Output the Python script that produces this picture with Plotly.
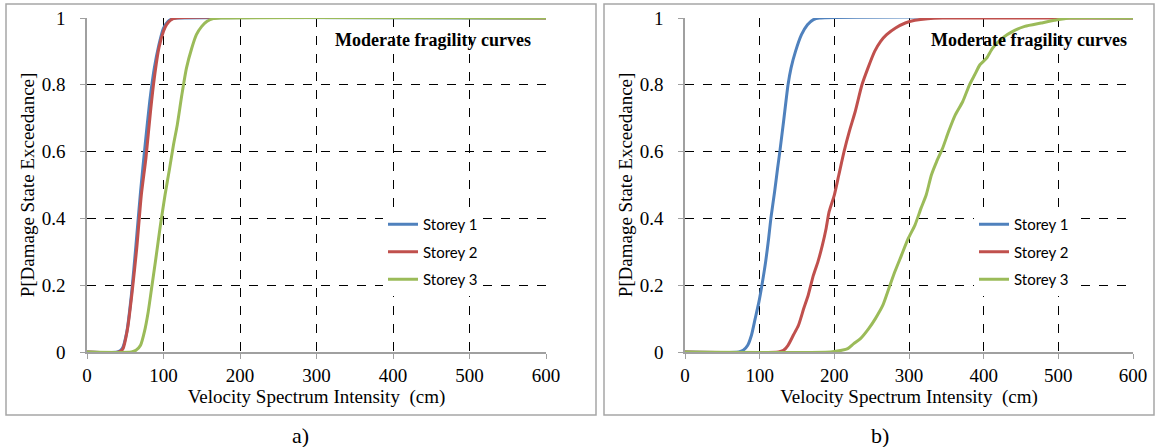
import plotly.graph_objects as go

# ---- data ----
# Panel a)
a_s1_x = [0, 40, 46, 52, 58, 64, 70, 76, 82, 88, 94, 100, 106, 112, 118, 600]
a_s1_y = [0, 0, 0.01, 0.06, 0.17, 0.32, 0.48, 0.62, 0.75, 0.85, 0.92, 0.97, 0.99, 0.998, 1, 1]
a_s2_x = [0, 42, 47, 53, 59, 65, 71, 77, 83, 88, 94, 100, 104, 110, 117, 600]
a_s2_y = [0, 0, 0.01, 0.07, 0.18, 0.31, 0.47, 0.58, 0.72, 0.82, 0.91, 0.96, 0.98, 0.995, 1, 1]
a_s3_x = [0, 58, 64, 70, 75, 80, 85, 90, 96, 102, 108, 113, 118, 124, 130, 137, 143, 150, 157, 165, 175, 600]
a_s3_y = [0, 0, 0.005, 0.02, 0.06, 0.12, 0.2, 0.28, 0.38, 0.47, 0.55, 0.62, 0.68, 0.77, 0.85, 0.91, 0.95, 0.975, 0.99, 0.998, 1, 1]

# Panel b)
b_s1_x = [0, 72, 78, 84, 89, 94, 99, 103, 108, 112, 115, 120, 124, 127, 132, 138, 142, 148, 156, 164, 172, 180, 600]
b_s1_y = [0, 0, 0.005, 0.02, 0.05, 0.1, 0.15, 0.2, 0.27, 0.34, 0.4, 0.48, 0.55, 0.6, 0.69, 0.8, 0.85, 0.9, 0.95, 0.98, 0.995, 1, 1]
b_s2_x = [0, 125, 132, 138, 145, 152, 159, 165, 172, 178, 184, 189, 193, 200, 206, 213, 220, 228, 237, 245, 254, 262, 270, 282, 295, 308, 325, 345, 600]
b_s2_y = [0, 0, 0.005, 0.02, 0.05, 0.08, 0.13, 0.17, 0.23, 0.27, 0.32, 0.37, 0.42, 0.47, 0.53, 0.6, 0.66, 0.72, 0.8, 0.85, 0.9, 0.93, 0.95, 0.97, 0.985, 0.993, 0.998, 1, 1]
b_s3_x = [0, 195, 210, 218, 226, 235, 246, 255, 265, 273, 281, 290, 299, 308, 316, 323, 330, 337, 345, 353, 362, 372, 381, 388, 395, 404, 412, 425, 439, 455, 477, 495, 515, 600]
b_s3_y = [0, 0, 0.005, 0.01, 0.025, 0.04, 0.07, 0.1, 0.14, 0.19, 0.24, 0.29, 0.34, 0.38, 0.43, 0.47, 0.53, 0.57, 0.61, 0.66, 0.71, 0.75, 0.8, 0.83, 0.86, 0.88, 0.91, 0.94, 0.96, 0.975, 0.985, 0.993, 1, 1]

series_names = ["Storey 1", "Storey 2", "Storey 3"]
colors = ["#4F81BD", "#C0504D", "#9BBB59"]
x_ticks = [0, 100, 200, 300, 400, 500, 600]
y_ticks = [0, 0.2, 0.4, 0.6, 0.8, 1]
y_tick_text = ["0", "0.2", "0.4", "0.6", "0.8", "1"]
panel_labels = ["a)", "b)"]
note_text = "Moderate fragility curves"
x_title = "Velocity Spectrum Intensity  (cm)"
y_title = "P[Damage State Exceedance]"

W, H = 1160, 447
SERIF = "Liberation Serif, Times New Roman, serif"
fig = go.Figure()

panels = [
    ([a_s1_x, a_s2_x, a_s3_x], [a_s1_y, a_s2_y, a_s3_y], "x", "y", "legend", "a"),
    ([b_s1_x, b_s2_x, b_s3_x], [b_s1_y, b_s2_y, b_s3_y], "x2", "y2", "legend2", "b"),
]
for xs, ys, xa, ya, lg, tag in panels:
    for i in range(3):
        fig.add_trace(go.Scatter(x=xs[i], y=ys[i], mode="lines", name=series_names[i],
                                 line=dict(color=colors[i], width=3, shape="spline", smoothing=0.6),
                                 xaxis=xa, yaxis=ya, legend=lg, legendgroup=tag + str(i)))

ydom = [1 - 352 / H, 1 - 18 / H]
xdom1 = [87 / W, 546 / W]
xdom2 = [685 / W, 1133 / W]

tickfont = dict(family=SERIF, size=19, color="black")
titlefont = dict(family=SERIF, size=19, color="black")

def xaxis(dom, anchor):
    return dict(domain=dom, anchor=anchor, range=[0, 600], tickvals=x_ticks,
                showgrid=True, gridcolor="black", griddash="dash", gridwidth=1,
                showline=True, linecolor="#A0A0A0", linewidth=1.5,
                ticks="outside", ticklen=5, tickcolor="#A0A0A0",
                zeroline=False, tickfont=tickfont, automargin=False,
                title=dict(text=x_title, font=titlefont, standoff=2))

def yaxis(anchor):
    return dict(domain=ydom, anchor=anchor, range=[0, 1], tickvals=y_ticks, ticktext=y_tick_text,
                showgrid=True, gridcolor="black", griddash="dash", gridwidth=1,
                showline=True, linecolor="#A0A0A0", linewidth=1.5,
                ticks="outside", ticklen=5, tickcolor="#A0A0A0", ticklabelstandoff=11,
                zeroline=False, tickfont=tickfont, automargin=False,
                title=dict(text=y_title, font=titlefont, standoff=2))

legend_common = dict(font=dict(family="Lato", size=15, color="black"),
                     bgcolor="white", itemwidth=30, tracegroupgap=5,
                     xanchor="left", yanchor="top")

fig.update_layout(
    width=W, height=H, margin=dict(l=0, r=0, t=0, b=0),
    paper_bgcolor="white", plot_bgcolor="white",
    xaxis=xaxis(xdom1, "y"), yaxis=yaxis("x"),
    xaxis2=xaxis(xdom2, "y2"), yaxis2=yaxis("x2"),
    legend=dict(x=383 / W, y=1 - 208 / H, **legend_common),
    legend2=dict(x=974 / W, y=1 - 208 / H, **legend_common),
    showlegend=True,
    shapes=[
        dict(type="rect", xref="paper", yref="paper", x0=6 / W, x1=596 / W, y0=1 - 415 / H, y1=1 - 4 / H,
             line=dict(color="#A6A6A6", width=1.5)),
        dict(type="rect", xref="paper", yref="paper", x0=604 / W, x1=1154 / W, y0=1 - 415 / H, y1=1 - 4 / H,
             line=dict(color="#A6A6A6", width=1.5)),
    ],
    annotations=[
        dict(text="<b>" + note_text + "</b>", xref="paper", yref="paper", x=533 / W, y=1 - 40 / H,
             xanchor="right", yanchor="middle", showarrow=False,
             font=dict(family=SERIF, size=18, color="black")),
        dict(text="<b>" + note_text + "</b>", xref="paper", yref="paper", x=1129 / W, y=1 - 40 / H,
             xanchor="right", yanchor="middle", showarrow=False,
             font=dict(family=SERIF, size=18, color="black")),
        dict(text=panel_labels[0], xref="paper", yref="paper", x=300 / W, y=1 - 435 / H,
             xanchor="center", yanchor="middle", showarrow=False,
             font=dict(family=SERIF, size=22, color="black")),
        dict(text=panel_labels[1], xref="paper", yref="paper", x=880 / W, y=1 - 435 / H,
             xanchor="center", yanchor="middle", showarrow=False,
             font=dict(family=SERIF, size=22, color="black")),
    ],
)

fig.write_html("out.html")
